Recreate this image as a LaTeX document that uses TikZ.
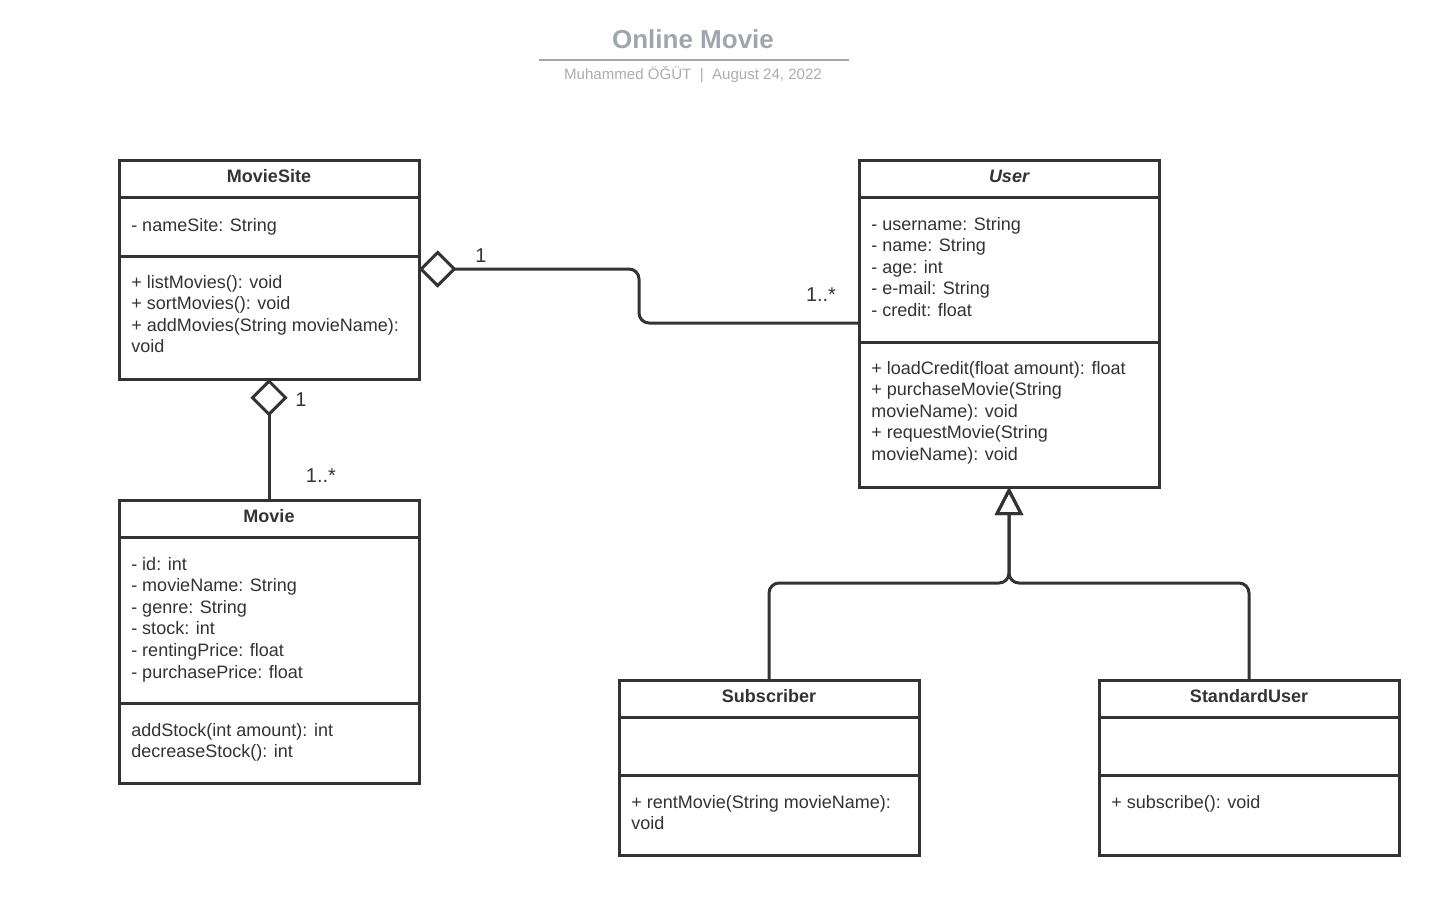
\documentclass[tikz,border=0pt]{standalone}
\usepackage{fontspec}
\setmainfont{Liberation Sans}
\usetikzlibrary{arrows.meta}
\definecolor{ink}{HTML}{333333}
\definecolor{ttl}{HTML}{A1A5AC}
\definecolor{subc}{HTML}{A9ACB2}
\begin{document}
\begin{tikzpicture}[x=0.75pt,y=-0.75pt,
 box/.style={draw=ink, line width=2.25pt, fill=white, minimum width=225pt, anchor=north west, inner sep=0pt, outer sep=0pt},
 hdr/.style={font=\fontsize{13.5}{16.2}\selectfont\bfseries, text=ink, anchor=base, inner sep=0pt},
 txt/.style={font=\fontsize{13.5}{16.2}\selectfont, text=ink, align=left, anchor=base west, inner sep=0pt},
 div/.style={draw=ink, line width=2.25pt},
 conn/.style={draw=ink, line width=2.25pt, rounded corners=7.5pt},
 agg/.style={conn, -{Diamond[open, length=28pt, width=28pt]}},
 gen/.style={conn, -{Triangle[open, length=21pt, width=21pt]}},
 mult/.style={font=\fontsize{15}{18}\selectfont, text=ink, inner sep=0pt}
]
\useasboundingbox (0,0) rectangle (1448,897);

% title
\node[font=\fontsize{19.5}{23}\selectfont\bfseries, text=ttl, inner sep=0pt] (title) at (693,39) {Online Movie};
\draw[draw=ttl, line width=1.5pt] (539,60) -- (849,60);
\node[font=\fontsize{11.3}{13}\selectfont, text=subc, inner sep=0pt] (subt) at (693,75) {Muhammed ÖĞÜT~~|~~August 24, 2022};

% boxes
\node[box, minimum height=164.25pt] (ms) at (119,160) {};
\node[box, minimum height=212.25pt] (mv) at (119,500) {};
\node[box, minimum height=245.25pt] (usr) at (859,160) {};
\node[box, minimum height=131.25pt] (sb) at (619,680) {};
\node[box, minimum height=131.25pt] (su) at (1099,680) {};

% dividers
\draw[div] (ms.west |- 0,197) -- (ms.east |- 0,197);
\draw[div] (ms.west |- 0,256) -- (ms.east |- 0,256);
\draw[div] (mv.west |- 0,537) -- (mv.east |- 0,537);
\draw[div] (mv.west |- 0,703) -- (mv.east |- 0,703);
\draw[div] (usr.west |- 0,197) -- (usr.east |- 0,197);
\draw[div] (usr.west |- 0,342) -- (usr.east |- 0,342);
\draw[div] (sb.west |- 0,717) -- (sb.east |- 0,717);
\draw[div] (sb.west |- 0,775) -- (sb.east |- 0,775);
\draw[div] (su.west |- 0,717) -- (su.east |- 0,717);
\draw[div] (su.west |- 0,775) -- (su.east |- 0,775);

% texts (multi-line nodes are anchored at the baseline of their last line)
\node[hdr] (msh) at (269,182) {MovieSite};
\node[txt] (msa) at (131,231) {- nameSite: String};
\node[txt] (msm) at (131,352.8) {+ listMovies(): void\\+ sortMovies(): void\\+ addMovies(String movieName):\\void};

\node[hdr] (mvh) at (269,522) {Movie};
\node[txt] (mva) at (131,678) {- id: int\\- movieName: String\\- genre: String\\- stock: int\\- rentingPrice: float\\- purchasePrice: float};
\node[txt] (mvm) at (131,757.6) {addStock(int amount): int\\decreaseStock(): int};

\node[hdr, font=\fontsize{13.5}{16.2}\selectfont\bfseries\itshape] (usrh) at (1009,182) {User};
\node[txt] (usra) at (871,316.4) {- username: String\\- name: String\\- age: int\\- e-mail: String\\- credit: float};
\node[txt] (usrm) at (871,460.4) {+ loadCredit(float amount): float\\+ purchaseMovie(String\\movieName): void\\+ requestMovie(String\\movieName): void};

\node[hdr] (sbh) at (769,702) {Subscriber};
\node[txt] (sbm) at (631,829.6) {+ rentMovie(String movieName):\\void};

\node[hdr] (suh) at (1249,702) {StandardUser};
\node[txt] (sum) at (1111,808) {+ subscribe(): void};

% connectors
\draw[agg] (usr.west |- 0,323) -- (639,323) -- (639,269) -- (ms.east |- 0,269);
\draw[agg] (mv.north) -- (ms.south);
\draw[gen] (sb.north) -- (769,583) -- (1009,583) -- (usr.south);
\draw[gen] (su.north) -- (1249,583) -- (1009,583) -- (usr.south);

% multiplicities
\node[mult] (m1) at (481,256) {1};
\node[mult] (m2) at (821,295) {1..*};
\node[mult] (m3) at (301,400) {1};
\node[mult] (m4) at (321,476) {1..*};
\end{tikzpicture}
\end{document}
